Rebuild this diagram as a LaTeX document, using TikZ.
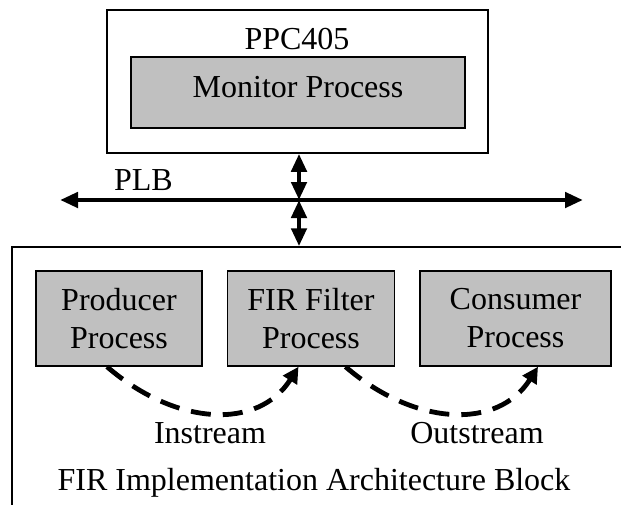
\documentclass[tikz,border=0pt]{standalone}
\usepackage{fontspec}
\setmainfont{Liberation Serif}
\usetikzlibrary{arrows.meta}
\usetikzlibrary{positioning}
\definecolor{procgray}{RGB}{192,192,192}

\begin{document}
\begin{tikzpicture}
    [
    x=0.5pt, y=-0.5pt,
    font=\fontsize{16}{19}\selectfont,
    frame/.style={draw,line width=0.75pt,inner sep=0pt},
    proc/.style={frame,fill=procgray,minimum height=47.5pt,align=center},
    bus/.style={line width=2.4pt,{Triangle[length=9pt,width=7.5pt]}-{Triangle[length=9pt,width=7.5pt]}},
    flow/.style={line width=2.4pt,dash pattern=on 10pt off 6pt,-{Triangle[length=8pt,width=8pt]}},
    ]
    \clip (0,0) rectangle (621,504);

    \node (ppc) at (297.5,81.5) [frame, minimum width=190.5pt, minimum height=71.5pt] {};
    \node (ppclbl) at (297,49) [anchor=base] {PPC405};
    \node (mon) at (298,92.5) [proc, minimum width=167pt, minimum height=35.5pt, text depth=5.5pt] {Monitor Process};

    \coordinate (jn) at (299,200);
    \coordinate (busl) at (60,200);
    \coordinate (busr) at (583,200);
    \draw [bus] (busl) to (busr);
    \node (plb) at (107,190) [anchor=base west] {PLB};

    \node (fir) at (326,383.5) [frame, minimum width=314pt, minimum height=136.5pt] {};
    \draw [bus] (ppc.south -| jn) to (jn);
    \draw [bus] (jn) to (fir.north -| jn);

    \node (prod) at (119,318.5) [proc, minimum width=83pt] {Producer\\Process};
    \node (filt) [proc, minimum width=83.5pt, right=12pt of prod] {FIR Filter\\Process};
    \node (cons) [proc, minimum width=95.5pt, right=12pt of filt] {Consumer\\Process};

    \draw [flow] ([xshift=-6pt]prod.south) .. controls +(70,60) and +(-40,63) .. ([xshift=-6.25pt]filt.south);
    \draw [flow] ([xshift=17.25pt]filt.south) .. controls +(70,60) and +(-40,63) .. ([xshift=11.25pt]cons.south);

    \node (instr) at (210,443) [anchor=base] {Instream};
    \node (outstr) at (477,443) [anchor=base] {Outstream};
    \node (firlbl) at (314,490) [anchor=base] {FIR Implementation Architecture Block};
\end{tikzpicture}
\end{document}
